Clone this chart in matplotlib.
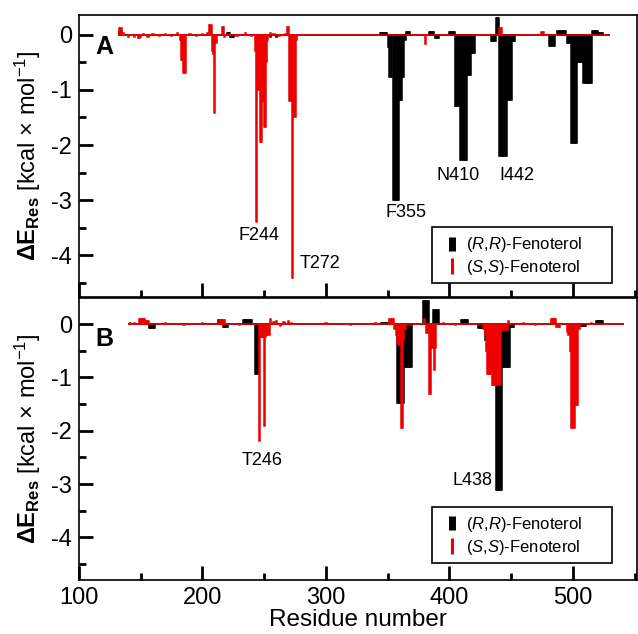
import numpy as np
import matplotlib
matplotlib.use("Agg")
import matplotlib.pyplot as plt
from matplotlib.lines import Line2D
from matplotlib.patches import Rectangle
from matplotlib.ticker import MultipleLocator

plt.rcParams['font.family'] = ['Liberation Sans', 'DejaVu Sans']
plt.rcParams['axes.unicode_minus'] = False
plt.rcParams['mathtext.fontset'] = 'custom'
plt.rcParams['mathtext.rm'] = 'Liberation Sans'
plt.rcParams['mathtext.it'] = 'Liberation Sans:italic'
plt.rcParams['mathtext.bf'] = 'Liberation Sans:bold'

# ---------------- data ----------------
# panel A : residue range covered by each series
span_A_rr = (132, 530)
span_A_ss = (132, 530)
# (R,R)-Fenoterol, panel A
rr_A_res = [133, 134, 220, 221, 222, 223, 224, 225, 250, 255, 260, 344, 345, 346, 347, 348, 349,
            351, 352, 353, 355, 356, 357, 358, 359, 360, 361, 362, 363, 364, 365, 366, 367, 368,
            384, 385, 386, 387, 389, 390, 391, 400, 401, 402, 403, 404,
            405, 406, 407, 408, 409, 410, 411, 412, 413, 414, 415, 416, 417, 418, 419, 420,
            434, 435, 436, 437, 438, 439, 440, 441, 442, 443, 444, 445, 446, 447, 448, 449, 450,
            451, 452, 453, 481, 482, 483, 484, 485, 488, 489, 490, 491, 492, 493, 494,
            496, 497, 498, 499, 500, 501, 502, 503, 504, 505, 506, 507, 508,
            509, 510, 511, 512, 513, 514, 515, 516, 517, 518, 519, 520, 521, 522, 523, 524]
rr_A_val = [0.06, 0.06, 0.03, 0.03, 0.03, -0.03, -0.03, -0.03, -0.03, -0.03, -0.03, 0.03, 0.03, 0.03, 0.03, 0.03, 0.03,
            -0.22, -0.76, -0.76, -3.0, -3.0, -3.0, -3.0, -3.0, -1.18, -1.18, -0.76, -0.76, -0.1, 0.05, 0.05, 0.05, 0.05,
            0.05, 0.05, 0.05, 0.05, -0.05, -0.05, -0.05, 0.05, 0.05, 0.05, 0.05, 0.05,
            -1.3, -1.3, -1.3, -1.3, -2.27, -2.27, -2.27, -2.27, -2.27, -2.27, -0.73, -0.73, -0.73, -0.33, -0.33, -0.33,
            -0.12, -0.12, -0.12, -0.12, 0.3, 0.3, 0.3, -2.2, -2.2, -2.2, -2.2, -2.2, -2.2, -1.18, -1.18, -1.18, -1.18,
            -0.12, -0.12, -0.12, -0.2, -0.2, -0.2, -0.2, -0.2, 0.07, 0.07, 0.07, 0.07, 0.07, 0.07, 0.07,
            -0.15, -0.15, -0.15, -1.97, -1.97, -1.97, -1.97, -1.97, -0.5, -0.5, -0.5, -0.5, -0.5,
            -0.88, -0.88, -0.88, -0.88, -0.88, -0.88, -0.88, 0.07, 0.07, 0.07, 0.07, 0.07, 0.03, 0.03, 0.03, 0.03]
# (S,S)-Fenoterol, panel A
ss_A_res = [133, 134, 136, 140, 145, 148, 149, 150, 152, 156, 160, 165, 170, 175, 180,
            182, 183, 184, 185, 186, 190, 195, 200, 204, 206, 207, 208, 209, 210, 211,
            216, 217, 218, 222, 228, 235, 240,
            243, 244, 245, 246, 247, 248, 249, 250, 251, 252, 253, 255, 258, 262, 267,
            269, 270, 271, 272, 273, 274, 275, 276, 381, 441, 442, 475, 476]
ss_A_val = [0.12, 0.12, 0.03, -0.03, -0.04, -0.06, -0.05, -0.04, 0.02, -0.03, 0.02, -0.02, 0.02, -0.02, 0.04,
            -0.1, -0.45, -0.45, -0.7, -0.7, 0.02, -0.02, 0.02, 0.03, 0.18, 0.18, -0.3, -0.35, -1.42, -0.15,
            0.15, 0.15, -0.03, 0.02, -0.02, 0.03, -0.02,
            -0.3, -3.4, -1.0, -1.0, -1.95, -1.95, -1.2, -1.67, -1.67, -0.5, -0.1, 0.04, 0.02, -0.02, 0.02,
            0.15, 0.15, -1.2, -1.2, -4.42, -1.5, -1.5, -0.1, -0.17, 0.12, 0.12, 0.05, 0.05]

# panel B
span_B_rr = (140, 541)
span_B_ss = (140, 541)
rr_B_res = [157, 158, 159, 160, 161, 213, 214, 215, 217, 218, 219, 220,
            233, 234, 235, 236, 237, 238, 239, 240, 243, 244, 245,
            345, 346, 347, 348, 349, 350, 351, 352, 353,
            358, 359, 360, 361, 362, 363, 364, 365, 366, 367, 368, 369,
            379, 380, 381, 382, 383, 387, 388, 389, 390, 391,
            410, 411, 412, 413, 414, 415, 424, 425, 426, 427, 428, 429, 430, 431,
            432, 433, 434, 435, 436, 437, 438, 439, 440, 441, 442,
            443, 444, 445, 446, 447, 448, 449, 450, 451, 452,
            505, 506, 507, 508, 509, 510, 519, 520, 521, 522, 523, 524]
rr_B_val = [-0.08, -0.08, -0.08, -0.08, -0.08, 0.08, 0.08, 0.08, -0.06, -0.06, -0.06, -0.06,
            0.07, 0.07, 0.07, 0.07, 0.07, 0.07, 0.07, 0.07, -0.93, -0.93, -0.93,
            0.02, 0.02, 0.02, 0.02, 0.02, 0.02, 0.02, 0.02, 0.02,
            -1.48, -1.48, -1.48, -1.48, -1.48, -1.48, -0.8, -0.8, -0.8, -0.8, -0.8, -0.8,
            0.43, 0.43, 0.43, 0.43, 0.43, 0.26, 0.26, 0.26, 0.26, 0.26,
            0.08, 0.08, 0.08, 0.08, 0.08, 0.08, -0.08, -0.08, -0.08, -0.08, -0.08, -0.3, -0.3, -0.3,
            -0.65, -0.65, -0.65, -0.65, -0.65, -0.65, -3.11, -3.11, -3.11, -3.11, -3.11,
            -0.8, -0.8, -0.8, -0.8, -0.8, -0.8, -0.8, -0.05, -0.05, -0.05,
            -0.03, -0.03, -0.03, -0.03, -0.03, -0.03, 0.05, 0.05, 0.05, 0.05, 0.05, 0.05]
ss_B_res = [142, 145, 149, 150, 151, 152, 153, 154, 155, 156, 170, 185, 200,
            214, 215, 216, 217, 218, 230, 246, 247, 248, 249, 250, 251, 252, 253, 254, 255,
            258, 260, 263, 266, 270, 272, 300, 320, 340,
            352, 353, 354, 355, 356, 357, 358, 359, 360, 361, 362, 363, 364,
            380, 382, 383, 384, 385, 386, 387, 388, 389, 395, 405,
            428, 429, 430, 431, 432, 433, 434, 435, 436, 437, 438, 439, 440, 441,
            443, 444, 445, 446, 447, 448, 460, 470, 483, 484, 485, 486, 487, 488, 489,
            496, 497, 498, 499, 500, 501, 502, 503, 504, 505, 515]
ss_B_val = [0.02, 0.03, 0.1, 0.1, 0.1, 0.1, 0.1, 0.05, 0.05, 0.05, 0.02, -0.02, 0.02,
            0.08, 0.08, 0.08, 0.08, 0.08, -0.02, -2.2, -0.25, -0.25, -0.25, -1.92, -0.25, -0.2, -0.2, -0.2, 0.1,
            0.04, 0.05, -0.03, 0.04, 0.05, 0.03, 0.02, -0.02, 0.02,
            0.09, 0.09, 0.09, 0.09, -0.1, -0.2, -0.35, -0.4, -0.4, -1.94, -1.94, -0.3, -0.1,
            0.1, -0.17, -0.17, -1.31, -1.31, -0.45, -0.45, -0.86, -0.45, 0.02, -0.02,
            -0.1, -0.2, -0.5, -0.93, -0.93, -0.93, -0.93, -1.15, -1.15, -1.15, -1.15, -1.15, -1.15, -1.15,
            -0.11, -0.11, -0.11, -0.11, -0.11, 0.05, 0.02, -0.02, 0.1, 0.1, 0.1, 0.1, -0.05, -0.05, -0.05,
            -0.15, -0.2, -0.5, -1.94, -1.94, -1.94, -1.52, -1.52, -1.52, -0.1, 0.02]

# residue labels : (text, residue position, energy position)
labels_A = [('F244', 246.0, -3.65), ('T272', 295.5, -4.16), ('F355', 364.5, -3.22),
            ('N410', 407.0, -2.55), ('I442', 455.0, -2.55)]
labels_B = [('T246', 248.5, -2.55), ('L438', 418.5, -2.93)]

legend_names = ['($\\mathit{R}$,$\\mathit{R}$)-Fenoterol', '($\\mathit{S}$,$\\mathit{S}$)-Fenoterol']
ylabel = '$\\mathbf{\\Delta E_{Res}}$ [kcal \u00d7 mol$^{-1}$]'


def full_series(span, res, val):
    ''' residues with no listed value contribute zero '''
    x = np.arange(span[0], span[1] + 1)
    y = np.zeros(len(x))
    for r, v in zip(res, val):
        y[r - span[0]] = v
    return x, y


def panelPlot(ax, rr, ss, labels, letter, ylims, letter_y, box_y):
    x, y = full_series(*rr)
    ax.bar(x, y, width=1.0, color='black', edgecolor='black', linewidth=1.1, zorder=2)
    x, y = full_series(*ss)
    ax.bar(x, y, width=1.0, color='#ee0000', edgecolor='#ee0000', linewidth=1.1, zorder=3)

    for txt, xr, yr in labels:
        ax.text(xr, yr, txt, ha='center', va='center', fontsize=13)

    ax.text(0.029, letter_y, letter, transform=ax.transAxes, fontsize=18,
            fontweight='bold', ha='left', va='center')

    ax.set_xlim(100, 552)
    ax.set_ylim(ylims)
    ax.xaxis.set_major_locator(MultipleLocator(100))
    ax.xaxis.set_minor_locator(MultipleLocator(50))
    ax.yaxis.set_major_locator(MultipleLocator(1))
    ax.yaxis.set_minor_locator(MultipleLocator(0.5))
    ax.tick_params(which='both', direction='in', top=False, right=False, width=2.0,
                   labelsize=17)
    ax.tick_params(which='major', length=10, pad=5)
    ax.tick_params(which='minor', length=5)
    for sp in ax.spines.values():
        sp.set_linewidth(1.2)

    ax.set_ylabel(ylabel, fontsize=17)
    ax.yaxis.set_label_coords(-0.064, 0.5)

    # legend box
    ax.add_patch(Rectangle((0.6326, box_y[0]), 0.9552 - 0.6326, box_y[1] - box_y[0],
                           transform=ax.transAxes, fill=False, edgecolor='black',
                           linewidth=1.2, zorder=5))
    handles = [Line2D([], [], color='black', marker='|', markersize=10, mew=5, linestyle='None'),
               Line2D([], [], color='#ee0000', marker='|', markersize=11, mew=2.2, linestyle='None')]
    ax.legend(handles, legend_names, loc='upper left', bbox_to_anchor=(0.6326, box_y[1]),
              frameon=False, fontsize=12, borderpad=0.5, handlelength=1.4,
              handletextpad=0.15, labelspacing=0.2, borderaxespad=0)


fig = plt.figure(figsize=(6.38, 6.34), dpi=100)
axA = fig.add_axes([0.1238, 0.5315, 0.8746, 0.4448])
axB = fig.add_axes([0.1238, 0.0852, 0.8746, 0.4448])

panelPlot(axA, (span_A_rr, rr_A_res, rr_A_val), (span_A_ss, ss_A_res, ss_A_val),
          labels_A, 'A', (-4.76, 0.36), 0.888, (0.0496, 0.248))
panelPlot(axB, (span_B_rr, rr_B_res, rr_B_val), (span_B_ss, ss_B_res, ss_B_val),
          labels_B, 'B', (-4.80, 0.49), 0.856, (0.0603, 0.259))

axA.tick_params(labelbottom=False)
axB.tick_params(which='major', axis='x', pad=5)
axB.set_xlabel('Residue number', fontsize=17.5, labelpad=0)

fig.savefig('out.png', dpi=100)
